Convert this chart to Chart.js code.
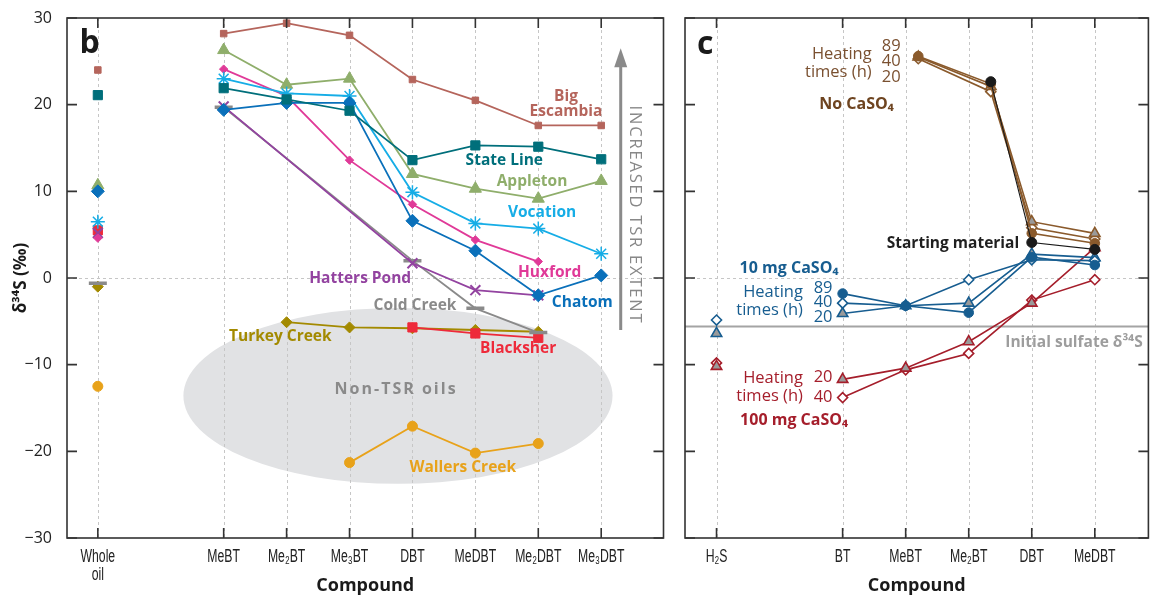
<!DOCTYPE html>
<html>
<head>
<meta charset="utf-8">
<script src="https://cdn.jsdelivr.net/npm/chart.js@4.4.1/dist/chart.umd.min.js"></script>
<style>
  html, body { margin: 0; padding: 0; background: #fff; }
  #wrap { position: relative; width: 1156px; height: 598px; }
  #left { position: absolute; left: 0; top: 0; }
  #right { position: absolute; left: 676px; top: 0; }
</style>
</head>
<body>
<div id="wrap">
  <canvas id="left" width="676" height="598"></canvas>
  <canvas id="right" width="480" height="598"></canvas>
</div>
<script>
// ---- panel b: oils ----
const oilCompounds = ['Whole oil', '', 'MeBT', 'Me₂BT', 'Me₃BT', 'DBT', 'MeDBT', 'Me₂DBT', 'Me₃DBT'];
const bigEscambia  = [24.0, null, 28.2, 29.4, 28.0, 22.9, 20.5, 17.6, 17.6];
const stateLine    = [21.1, null, 21.9, 20.6, 19.3, 13.6, 15.3, 15.15, 13.7];
const appleton     = [10.7, null, 26.3, 22.3, 23.0, 12.0, 10.3, 9.15, 11.2];
const vocation     = [6.5, null, 23.0, 21.3, 21.0, 9.9, 6.3, 5.7, 2.8];
const huxford      = [4.6, null, 24.1, 21.0, 13.6, 8.5, 4.4, 1.9, null];
const chatom       = [10.0, null, 19.4, 20.2, 20.2, 6.6, 3.15, -2.0, 0.3];
const hattersPond  = [5.2, null, 19.8, null, null, 1.7, -1.4, -2.0, null];
const coldCreek    = [-0.6, null, 19.7, null, null, 2.0, -3.5, -6.3, null];
const turkeyCreek  = [-1.0, null, null, -5.1, -5.7, -5.8, -6.0, -6.2, null];
const blacksher    = [5.5, null, null, null, null, -5.7, -6.4, -6.9, null];
const wallersCreek = [-12.5, null, null, null, -21.3, -17.1, -20.2, -19.1, null];

// ---- panel c: heating experiments ----
const expCompounds = ['H₂S', '', 'BT', 'MeBT', 'Me₂BT', 'DBT', 'MeDBT'];
const noSulfateX   = [3.2, 4.35, 5, 6];
const noSulfate89  = [25.6, 22.4, 5.15, 4.0];
const noSulfate40  = [25.5, 22.1, 6.5, 5.15];
const noSulfate20  = [25.3, 21.5, 5.8, 4.5];
const startingX    = [4.35, 5, 6];
const startingMaterial = [22.65, 4.1, 3.3];
const sulfate10mg89  = [null, null, -1.8, -3.2, -4.0, 2.4, 1.5];
const sulfate10mg40  = [-4.85, null, -2.9, -3.2, -0.2, 2.1, 2.0];
const sulfate10mg20  = [-6.4, null, -4.1, -3.2, -2.9, 2.75, 2.35];
const sulfate100mg20 = [-10.2, null, -11.7, -10.4, -7.35, -2.9, 3.5];
const sulfate100mg40 = [-9.8, null, -13.8, -10.6, -8.7, -2.55, -0.2];
const initialSulfate = -5.6;

const yTickValues = [-30, -20, -10, 0, 10, 20, 30];

const SANS = "'Open Sans', 'Noto Sans', sans-serif";

function series(label, xs, ys, color, style) {
  const data = [];
  ys.forEach((v, i) => { if (v !== null) data.push({ x: xs[i], y: v }); });
  return Object.assign({
    label, data, showLine: true,
    borderColor: color, backgroundColor: color,
    pointBorderColor: color, pointBackgroundColor: color,
    borderWidth: 1.8, pointBorderWidth: 1,
    segment: { borderColor: c => (c.p0.parsed.x === 0 ? 'rgba(0,0,0,0)' : undefined) }
  }, style);
}
const idx = arr => arr.map((_, i) => i);

function txt(ctx, s, x, y, font, color, align, spacing) {
  ctx.font = font;
  ctx.fillStyle = color;
  ctx.textAlign = align || 'center';
  ctx.textBaseline = 'middle';
  ctx.letterSpacing = spacing || '0px';
  ctx.fillText(s, x, y);
  ctx.letterSpacing = '0px';
}

// frame, dashed grid, inward ticks, condensed category labels, notes
const panelPlugin = {
  id: 'panel',
  beforeDraw(chart, args, opts) {
    const { ctx, chartArea: a, scales: { x, y } } = chart;
    ctx.save();
    if (opts.under) opts.under(chart, ctx, x, y);
    ctx.strokeStyle = '#c6c6c6';
    ctx.lineWidth = 1;
    ctx.setLineDash([3, 3]);
    x.ticks.forEach(t => {
      const px = Math.round(x.getPixelForValue(t.value)) + 0.5;
      ctx.beginPath(); ctx.moveTo(px, a.top); ctx.lineTo(px, a.bottom); ctx.stroke();
    });
    const p0 = Math.round(y.getPixelForValue(0)) + 0.5;
    ctx.beginPath(); ctx.moveTo(a.left, p0); ctx.lineTo(a.right, p0); ctx.stroke();
    ctx.setLineDash([]);
    if (opts.refLine !== undefined) {
      const pr = y.getPixelForValue(opts.refLine);
      ctx.strokeStyle = '#a4a4a4'; ctx.lineWidth = 2;
      ctx.beginPath(); ctx.moveTo(a.left, pr); ctx.lineTo(a.right, pr); ctx.stroke();
    }
    ctx.restore();
  },
  afterDraw(chart, args, opts) {
    const { ctx, chartArea: a, scales: { x, y } } = chart;
    ctx.save();
    ctx.strokeStyle = '#333';
    ctx.lineWidth = 1.6;
    ctx.strokeRect(a.left, a.top, a.right - a.left, a.bottom - a.top);
    const L = 10;
    ctx.beginPath();
    yTickValues.forEach(v => {
      const py = y.getPixelForValue(v);
      ctx.moveTo(a.left, py); ctx.lineTo(a.left + L, py);
      ctx.moveTo(a.right, py); ctx.lineTo(a.right - L, py);
    });
    x.ticks.forEach(t => {
      const px = x.getPixelForValue(t.value);
      ctx.moveTo(px, a.top); ctx.lineTo(px, a.top + L);
      ctx.moveTo(px, a.bottom); ctx.lineTo(px, a.bottom - L);
    });
    ctx.stroke();
    // category labels (condensed)
    ctx.fillStyle = '#222';
    ctx.font = "18px 'Liberation Sans', Arial, sans-serif";
    ctx.textAlign = 'center';
    ctx.textBaseline = 'middle';
    x.ticks.forEach(t => {
      const px = x.getPixelForValue(t.value);
      opts.categories[t.value].split(' ').forEach((line, k) => {
        ctx.save();
        ctx.translate(px, a.bottom + 19 + k * 18);
        ctx.scale(0.68, 1);
        ctx.fillText(line, 0, 0);
        ctx.restore();
      });
    });
    if (opts.over) opts.over(chart, ctx, x, y);
    (opts.notes || []).forEach(n => {
      txt(ctx, n.t, x.getPixelForValue(n.x), y.getPixelForValue(n.y), n.font, n.c, n.align, n.sp);
    });
    ctx.restore();
  }
};

const B15 = 'bold 15.5px ' + SANS;
const leftNotes = [
  { t: 'b', x: -0.13, y: 27.0, font: 'bold 32px ' + SANS, c: '#1a1a1a' },
  { t: 'Big', x: 7.44, y: 20.9, font: B15, c: '#b5655c' },
  { t: 'Escambia', x: 7.44, y: 19.15, font: B15, c: '#b5655c' },
  { t: 'State Line', x: 6.46, y: 13.6, font: B15, c: '#006f7b' },
  { t: 'Appleton', x: 6.9, y: 11.1, font: B15, c: '#8fae6b' },
  { t: 'Vocation', x: 7.06, y: 7.5, font: B15, c: '#16ade6' },
  { t: 'Huxford', x: 7.18, y: 0.58, font: B15, c: '#e03a98' },
  { t: 'Hatters Pond', x: 4.17, y: -0.1, font: B15, c: '#9343a0' },
  { t: 'Cold Creek', x: 5.04, y: -3.2, font: B15, c: '#8a8a8a' },
  { t: 'Chatom', x: 7.7, y: -2.85, font: B15, c: '#0a70ba' },
  { t: 'Turkey Creek', x: 2.9, y: -6.77, font: B15, c: '#a38a00' },
  { t: 'Blacksher', x: 6.68, y: -8.2, font: B15, c: '#ee2a3a' },
  { t: 'Non-TSR oils', x: 4.74, y: -12.9, font: 'bold 16px ' + SANS, c: '#8a8a8a', sp: '2px' },
  { t: 'Wallers Creek', x: 5.8, y: -21.9, font: B15, c: '#e8a21a' }
];

const R16 = '16.5px ' + SANS;
const BR16 = 'bold 16px ' + SANS;
const brown = '#8a5a2c', brownText = '#6e4420', blue = '#175d90', red = '#a51e2b';
const rightNotes = [
  { t: 'c', x: -0.18, y: 26.9, font: 'bold 32px ' + SANS, c: '#1a1a1a' },
  { t: 'Heating', x: 2.46, y: 25.85, font: R16, c: '#7a5030', align: 'right' },
  { t: 'times (h)', x: 2.46, y: 23.7, font: R16, c: '#7a5030', align: 'right' },
  { t: '89', x: 2.77, y: 26.77, font: R16, c: '#7a5030' },
  { t: '40', x: 2.77, y: 24.96, font: R16, c: '#7a5030' },
  { t: '20', x: 2.77, y: 23.16, font: R16, c: '#7a5030' },
  { t: 'No CaSO₄', x: 2.22, y: 20.08, font: BR16, c: brownText },
  { t: 'Starting material', x: 3.75, y: 3.92, font: 'bold 15.5px ' + SANS, c: '#1f1f1f' },
  { t: '10 mg CaSO₄', x: 1.15, y: 1.12, font: BR16, c: blue },
  { t: 'Heating', x: 1.37, y: -1.65, font: R16, c: blue, align: 'right' },
  { t: 'times (h)', x: 1.37, y: -3.7, font: R16, c: blue, align: 'right' },
  { t: '89', x: 1.69, y: -1.19, font: R16, c: blue },
  { t: '40', x: 1.69, y: -2.85, font: R16, c: blue },
  { t: '20', x: 1.69, y: -4.53, font: R16, c: blue },
  { t: 'Initial sulfate δ³⁴S', x: 5.67, y: -7.46, font: 'bold 15.5px ' + SANS, c: '#9d9d9d' },
  { t: 'Heating', x: 1.37, y: -11.57, font: R16, c: red, align: 'right' },
  { t: 'times (h)', x: 1.37, y: -13.7, font: R16, c: red, align: 'right' },
  { t: '20', x: 1.69, y: -11.46, font: R16, c: red },
  { t: '40', x: 1.69, y: -13.76, font: R16, c: red },
  { t: '100 mg CaSO₄', x: 1.23, y: -16.4, font: BR16, c: red }
];

function baseOptions(xMin, xMax, categories, yWidth, showY, padRight) {
  return {
    responsive: false,
    animation: false,
    layout: { padding: { top: 18, right: padRight, left: 0, bottom: 0 } },
    plugins: { legend: { display: false }, tooltip: { enabled: false } },
    scales: {
      x: {
        type: 'linear', min: xMin, max: xMax,
        grid: { display: false }, border: { display: false },
        ticks: { display: false },
        afterBuildTicks: s => { s.ticks = categories.map((c, i) => (c ? { value: i } : null)).filter(Boolean); },
        afterFit: s => { s.height = 60; },
        title: { display: true, text: 'Compound', color: '#1a1a1a', font: { family: SANS, size: 18, weight: 'bold' }, padding: { top: 0, bottom: 1 } }
      },
      y: {
        min: -30, max: 30,
        grid: { display: false }, border: { display: false },
        ticks: {
          display: showY, stepSize: 10, padding: 7, color: '#222',
          font: { family: SANS, size: 16 },
          callback: v => String(v).replace('-', '−')
        },
        afterFit: s => { s.width = yWidth; },
        title: { display: showY, text: 'δ³⁴S (‰)', color: '#1a1a1a', font: { family: SANS, size: 17, weight: 'bold' }, padding: { top: 11, bottom: 0 } }
      }
    }
  };
}

// panel b
const leftX = idx(oilCompounds);
const leftOpts = baseOptions(-0.49, 8.99, oilCompounds, 67, true, 5);
leftOpts.plugins.panel = {
  categories: oilCompounds,
  notes: leftNotes,
  under: (chart, ctx, x, y) => {
    const cx = x.getPixelForValue(4.77), cy = y.getPixelForValue(-13.6);
    const rx = x.getPixelForValue(4.77 + 3.41) - cx, ry = y.getPixelForValue(-13.6) - y.getPixelForValue(-13.6 + 10.15);
    ctx.fillStyle = '#e1e2e4';
    ctx.beginPath(); ctx.ellipse(cx, cy, rx, ry, 0, 0, Math.PI * 2); ctx.fill();
  },
  over: (chart, ctx, x, y) => {
    const ax = x.getPixelForValue(8.31), yb = y.getPixelForValue(-6.0), yt = y.getPixelForValue(26.5);
    ctx.strokeStyle = '#8a8a8a'; ctx.fillStyle = '#8a8a8a'; ctx.lineWidth = 3;
    ctx.beginPath(); ctx.moveTo(ax, yb); ctx.lineTo(ax, yt + 14); ctx.stroke();
    ctx.beginPath(); ctx.moveTo(ax, yt); ctx.lineTo(ax - 6.5, yt + 19); ctx.lineTo(ax + 6.5, yt + 19); ctx.closePath(); ctx.fill();
    ctx.save();
    ctx.translate(x.getPixelForValue(8.53), y.getPixelForValue(7.27));
    ctx.rotate(Math.PI / 2);
    txt(ctx, 'INCREASED TSR EXTENT', 0, 0, '16.5px ' + SANS, '#888', 'center', '1.8px');
    ctx.restore();
  }
};
new Chart(document.getElementById('left'), {
  type: 'scatter',
  data: {
    datasets: [
      series('Big Escambia', leftX, bigEscambia, '#b5655c', { pointStyle: 'rect', pointRadius: 4.6 }),
      series('State Line', leftX, stateLine, '#006f7b', { pointStyle: 'rect', pointRadius: 6.5 }),
      series('Chatom', leftX, chatom, '#0a70ba', { pointStyle: 'rectRot', pointRadius: 6.5 }),
      series('Vocation', leftX, vocation, '#16ade6', { pointStyle: 'star', pointRadius: 7, pointBorderWidth: 1.5 }),
      series('Appleton', leftX, appleton, '#8fae6b', { pointStyle: 'triangle', pointRadius: 7 }),
      series('Huxford', leftX, huxford, '#e03a98', { pointStyle: 'rectRot', pointRadius: 4.2 }),
      series('Hatters Pond', leftX, hattersPond, '#9343a0', { pointStyle: 'crossRot', pointRadius: 7, pointBorderWidth: 2 }),
      series('Cold Creek', leftX, coldCreek, '#8a8a8a', { pointStyle: 'line', pointRadius: 9, pointBorderWidth: 3.5 }),
      series('Blacksher', leftX, blacksher, '#ee2a3a', { pointStyle: 'rect', pointRadius: 6.5 }),
      series('Turkey Creek', leftX, turkeyCreek, '#a38a00', { pointStyle: 'rectRot', pointRadius: 5.5 }),
      series('Wallers Creek', leftX, wallersCreek, '#e8a21a', { pointStyle: 'circle', pointRadius: 5 })
    ]
  },
  options: leftOpts,
  plugins: [panelPlugin]
});

// panel c
const rightX = idx(expCompounds);
const filled = () => ({ pointStyle: 'circle', pointRadius: 4.8, borderWidth: 1.6 });
const open = () => ({ pointStyle: 'rectRot', pointRadius: 5, pointBackgroundColor: '#fff', pointBorderWidth: 1.6, borderWidth: 1.6 });
const tri = () => ({ pointStyle: 'triangle', pointRadius: 6, pointBackgroundColor: '#9a9a9a', pointBorderWidth: 1.6, borderWidth: 1.6 });
const rightOpts = baseOptions(-0.5, 6.85, expCompounds, 9, false, 4);
rightOpts.plugins.panel = { categories: expCompounds, notes: rightNotes, refLine: initialSulfate };
new Chart(document.getElementById('right'), {
  type: 'scatter',
  data: {
    datasets: [
      series('Starting material', startingX, startingMaterial, '#1a1a1a', { pointStyle: 'circle', pointRadius: 5, borderWidth: 1.1 }),
      series('No CaSO4 89 h', noSulfateX, noSulfate89, brown, filled()),
      series('No CaSO4 40 h', noSulfateX, noSulfate40, brown, tri()),
      series('No CaSO4 20 h', noSulfateX, noSulfate20, brown, open()),
      series('10 mg 89 h', rightX, sulfate10mg89, blue, filled()),
      series('10 mg 40 h', rightX, sulfate10mg40, blue, open()),
      series('10 mg 20 h', rightX, sulfate10mg20, blue, tri()),
      series('100 mg 20 h', rightX, sulfate100mg20, red, tri()),
      series('100 mg 40 h', rightX, sulfate100mg40, red, open())
    ]
  },
  options: rightOpts,
  plugins: [panelPlugin]
});
</script>
</body>
</html>
